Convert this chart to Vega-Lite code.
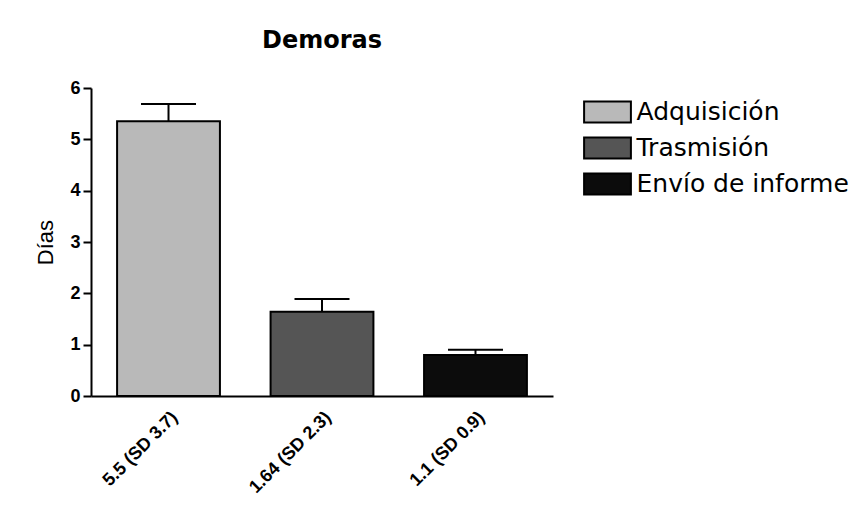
{
  "$schema": "https://vega.github.io/schema/vega-lite/v6.json",
  "autosize": "none",
  "width": 462,
  "height": 308,
  "padding": {"left": 91, "top": 88, "right": 312, "bottom": 122},
  "background": "white",
  "title": {"text": "Demoras", "font": "DejaVu Sans", "fontSize": 24, "fontWeight": "bold", "color": "black", "offset": 26, "anchor": "middle"},
  "data": {"values": [
    {"cat": "5.5 (SD 3.7)", "grp": "Adquisición", "v": 5.35, "up": 5.69},
    {"cat": "1.64 (SD 2.3)", "grp": "Trasmisión", "v": 1.64, "up": 1.89},
    {"cat": "1.1 (SD 0.9)", "grp": "Envío de informe", "v": 0.80, "up": 0.90}
  ]},
  "encoding": {
    "x": {"field": "cat", "type": "nominal", "sort": null, "title": null,
      "scale": {"paddingInner": 0.33, "paddingOuter": 0.17},
      "axis": {"labelAngle": -45, "labelFont": "Liberation Sans", "labelFontSize": 18, "labelFontWeight": "bold", "labelColor": "black", "ticks": false, "domainColor": "black", "domainWidth": 2, "labelPadding": 12}}
  },
  "layer": [
    {"mark": {"type": "bar", "stroke": "black", "strokeWidth": 2},
     "encoding": {
       "y": {"field": "v", "type": "quantitative", "title": "Días",
         "scale": {"domain": [0, 6], "nice": false},
         "axis": {"values": [0, 1, 2, 3, 4, 5, 6], "grid": false, "labelFont": "Liberation Sans", "labelFontSize": 18, "labelFontWeight": "bold", "labelColor": "black", "tickColor": "black", "tickWidth": 2, "tickSize": 8, "labelPadding": 3, "domainColor": "black", "domainWidth": 2, "titleFont": "Liberation Sans", "titleFontSize": 22, "titleFontWeight": "normal", "titleColor": "black", "titlePadding": 12}},
       "color": {"field": "grp", "type": "nominal", "sort": null,
         "scale": {"domain": ["Adquisición", "Trasmisión", "Envío de informe"], "range": ["#b9b9b9", "#555555", "#0c0c0c"]},
         "legend": {"title": null, "orient": "none", "legendX": 497.5, "legendY": 5, "symbolType": "M-1.3,-0.58H1.3V0.58H-1.3Z", "symbolSize": 1296, "symbolStrokeColor": "black", "symbolStrokeWidth": 2, "symbolOpacity": 1, "rowPadding": 2, "labelOffset": 10, "labelFont": "DejaVu Sans", "labelFontSize": 25, "labelColor": "black", "labelLimit": 300}}
     }},
    {"mark": {"type": "rule", "color": "black", "strokeWidth": 2},
     "encoding": {"y": {"field": "v", "type": "quantitative"}, "y2": {"field": "up"}}},
    {"mark": {"type": "tick", "color": "black", "thickness": 2, "size": 55, "opacity": 1},
     "encoding": {"y": {"field": "up", "type": "quantitative"}}}
  ],
  "config": {"view": {"stroke": null}}
}
